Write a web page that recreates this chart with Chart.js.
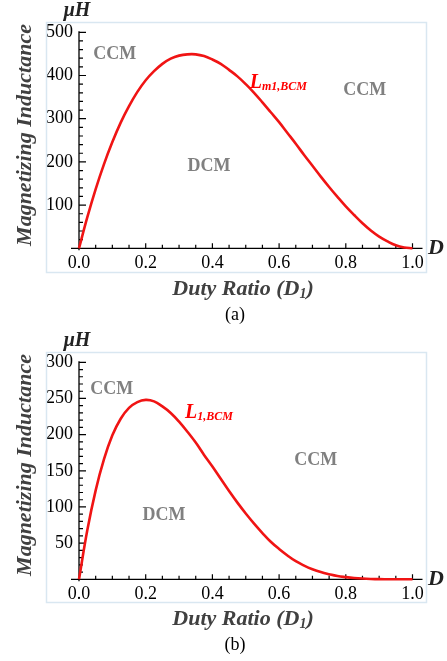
<!DOCTYPE html>
<html>
<head>
<meta charset="utf-8">
<script src="https://cdn.jsdelivr.net/npm/chart.js@4.4.1/dist/chart.umd.min.js"></script>
<style>
    body { margin: 0; background: #fff; }
    canvas { position: absolute; left: 0; }
</style>
</head>
<body>
<canvas id="chartA" width="447" height="330" style="top:0px"></canvas>
<canvas id="chartB" width="447" height="331" style="top:330px"></canvas>
<script>
// values (uH against duty ratio D1)
const dutyRatio = [0, 0.025, 0.05, 0.075, 0.1, 0.125, 0.15, 0.175, 0.2, 0.225, 0.25, 0.275, 0.3, 0.325,
    0.35, 0.375, 0.4, 0.425, 0.45, 0.475, 0.5, 0.525, 0.55, 0.575, 0.6, 0.625, 0.65, 0.675, 0.7,
    0.725, 0.75, 0.775, 0.8, 0.825, 0.85, 0.875, 0.9, 0.925, 0.95, 0.975, 1.0];
const lm1Bcm = [0, 72, 137, 195, 246, 291, 329, 362, 389, 410, 427, 439, 446, 449,
    449, 445, 437, 427, 413, 398, 380, 360, 338, 315, 292, 267, 242, 216, 191,
    166, 142, 119, 97, 77, 58, 41, 27, 16, 7, 2, 0];
const l1Bcm = [0, 68, 123, 166, 199, 222, 237, 245, 248, 246, 239, 230, 218, 204,
    189, 172, 156, 139, 122, 106, 91, 77, 64, 52, 42, 33, 25, 19, 14,
    10, 7, 4.5, 3, 1.8, 1, 0.5, 0.2, 0.1, 0, 0, 0];
const xTicks = [0, 0.2, 0.4, 0.6, 0.8, 1.0];
const yTicksA = [100, 200, 300, 400, 500];
const yTicksB = [50, 100, 150, 200, 250, 300];

const SERIF = "'Liberation Serif', 'Times New Roman', serif";

// draws a row of text pieces (for subscripts), left or centered
function drawRich(ctx, parts, x, y, align) {
    let w = 0;
    parts.forEach(p => { ctx.font = p.font; w += ctx.measureText(p.t).width; });
    let cx = align === 'center' ? x - w / 2 : x;
    ctx.textBaseline = 'middle';
    ctx.textAlign = 'left';
    parts.forEach(p => {
        ctx.font = p.font;
        ctx.fillText(p.t, cx, y + (p.dy || 0));
        cx += ctx.measureText(p.t).width;
    });
}

const mathAxes = {
    id: 'mathAxes',
    beforeDatasetsDraw(chart, args, opts) {
        const ctx = chart.ctx;
        const xs = chart.scales.x, ys = chart.scales.y;
        const x0 = xs.getPixelForValue(0), y0 = ys.getPixelForValue(0);
        ctx.save();
        // pale frame round the plot
        ctx.strokeStyle = '#d9e7f1';
        ctx.lineWidth = 1.5;
        ctx.strokeRect(46.5, 22.5, 380, 250);

        ctx.strokeStyle = '#000';
        ctx.lineWidth = 1.3;
        ctx.beginPath();
        ctx.moveTo(x0 - 8, y0); ctx.lineTo(xs.getPixelForValue(1) + 10, y0);
        ctx.moveTo(x0, y0 + 2); ctx.lineTo(x0, ys.getPixelForValue(ys.max) - 1);
        ctx.stroke();

        ctx.lineWidth = 1.2;
        ctx.beginPath();
        // x ticks every 0.05, longer at 0.2
        for (let i = 1; i <= 20; i++) {
            const px = xs.getPixelForValue(i * 0.05);
            const len = i % 4 === 0 ? 5 : 3.5;
            ctx.moveTo(px, y0); ctx.lineTo(px, y0 - len);
        }
        // y ticks
        const minor = opts.yMinor, major = opts.yMajor;
        for (let v = minor; v <= ys.max + 0.01; v += minor) {
            const py = ys.getPixelForValue(v);
            const isMajor = Math.abs(v / major - Math.round(v / major)) < 0.01;
            ctx.moveTo(x0, py); ctx.lineTo(x0 + (isMajor ? 7 : 4), py);
        }
        ctx.stroke();
        ctx.restore();
    },
    afterDraw(chart, args, opts) {
        const ctx = chart.ctx;
        const xs = chart.scales.x, ys = chart.scales.y;
        ctx.save();
        ctx.fillStyle = '#404040';
        // y axis title
        ctx.save();
        ctx.translate(25, 135);
        ctx.rotate(-Math.PI / 2);
        ctx.font = 'bold italic 22px ' + SERIF;
        ctx.textAlign = 'center';
        ctx.textBaseline = 'middle';
        ctx.fillText('Magnetizing Inductance', 0, 0);
        ctx.restore();
        // x axis title
        drawRich(ctx, [
            { t: 'Duty Ratio (D', font: 'bold italic 22px ' + SERIF },
            { t: '1', font: 'bold italic 14px ' + SERIF, dy: 5 },
            { t: ')', font: 'bold italic 22px ' + SERIF }
        ], 243, 289, 'center');
        // unit and axis letter
        ctx.fillStyle = '#222';
        ctx.font = 'bold italic 20px ' + SERIF;
        ctx.textAlign = 'center';
        ctx.textBaseline = 'middle';
        ctx.fillText('\u03bcH', 77, 11);
        ctx.font = 'bold italic 22px ' + SERIF;
        ctx.fillText('D', 436, ys.getPixelForValue(0));
        // caption
        ctx.fillStyle = '#000';
        ctx.font = '18px ' + SERIF;
        ctx.fillText(opts.caption, 235, 315);
        // region notes
        ctx.fillStyle = '#808080';
        ctx.font = 'bold 18px ' + SERIF;
        opts.notes.forEach(n => {
            ctx.fillText(n.t, xs.getPixelForValue(n.x), ys.getPixelForValue(n.y));
        });
        // curve name
        ctx.fillStyle = '#f00';
        drawRich(ctx, [
            { t: 'L', font: 'bold italic 20px ' + SERIF },
            { t: opts.curveSub, font: 'bold italic 12px ' + SERIF, dy: 4 }
        ], xs.getPixelForValue(opts.curveAt[0]), ys.getPixelForValue(opts.curveAt[1]), 'left');
        ctx.restore();
    }
};

function makeChart(id, yMax, yTicks, values, axesOpts) {
    const ctx = document.getElementById(id).getContext('2d');
    return new Chart(ctx, {
        type: 'line',
        data: {
            datasets: [{
                data: dutyRatio.map((d, i) => ({ x: d, y: values[i] })),
                borderColor: '#f01414',
                borderWidth: 2.6,
                pointRadius: 0,
                tension: 0.4,
                clip: 6
            }]
        },
        options: {
            responsive: false,
            animation: false,
            layout: { padding: { top: 32.3, right: 34.5, left: 0, bottom: 0 } },
            plugins: { legend: { display: false }, tooltip: { enabled: false }, mathAxes: axesOpts },
            scales: {
                x: {
                    type: 'linear', min: 0, max: 1,
                    afterBuildTicks: s => { s.ticks = xTicks.map(v => ({ value: v })); },
                    afterFit: s => { s.height = 81.7; },
                    grid: { display: false, drawTicks: false },
                    border: { display: false },
                    ticks: {
                        padding: 4, color: '#000', maxRotation: 0,
                        font: { family: SERIF, size: 18 },
                        callback: v => v.toFixed(1)
                    }
                },
                y: {
                    min: 0, max: yMax,
                    afterBuildTicks: s => { s.ticks = yTicks.map(v => ({ value: v })); },
                    afterFit: s => { s.width = 79; },
                    grid: { display: false, drawTicks: false },
                    border: { display: false },
                    ticks: {
                        padding: 6, color: '#000',
                        font: { family: SERIF, size: 18 }
                    }
                }
            }
        },
        plugins: [mathAxes]
    });
}

makeChart('chartA', 500, yTicksA, lm1Bcm, {
    caption: '(a)', yMinor: 20, yMajor: 100,
    notes: [{ t: 'CCM', x: 0.107, y: 450 }, { t: 'CCM', x: 0.857, y: 365 }, { t: 'DCM', x: 0.39, y: 189 }],
    curveSub: 'm1,BCM', curveAt: [0.512, 383]
});
makeChart('chartB', 300, yTicksB, l1Bcm, {
    caption: '(b)', yMinor: 10, yMajor: 50,
    notes: [{ t: 'CCM', x: 0.098, y: 262 }, { t: 'CCM', x: 0.71, y: 165 }, { t: 'DCM', x: 0.255, y: 88 }],
    curveSub: '1,BCM', curveAt: [0.318, 230]
});
</script>
</body>
</html>
